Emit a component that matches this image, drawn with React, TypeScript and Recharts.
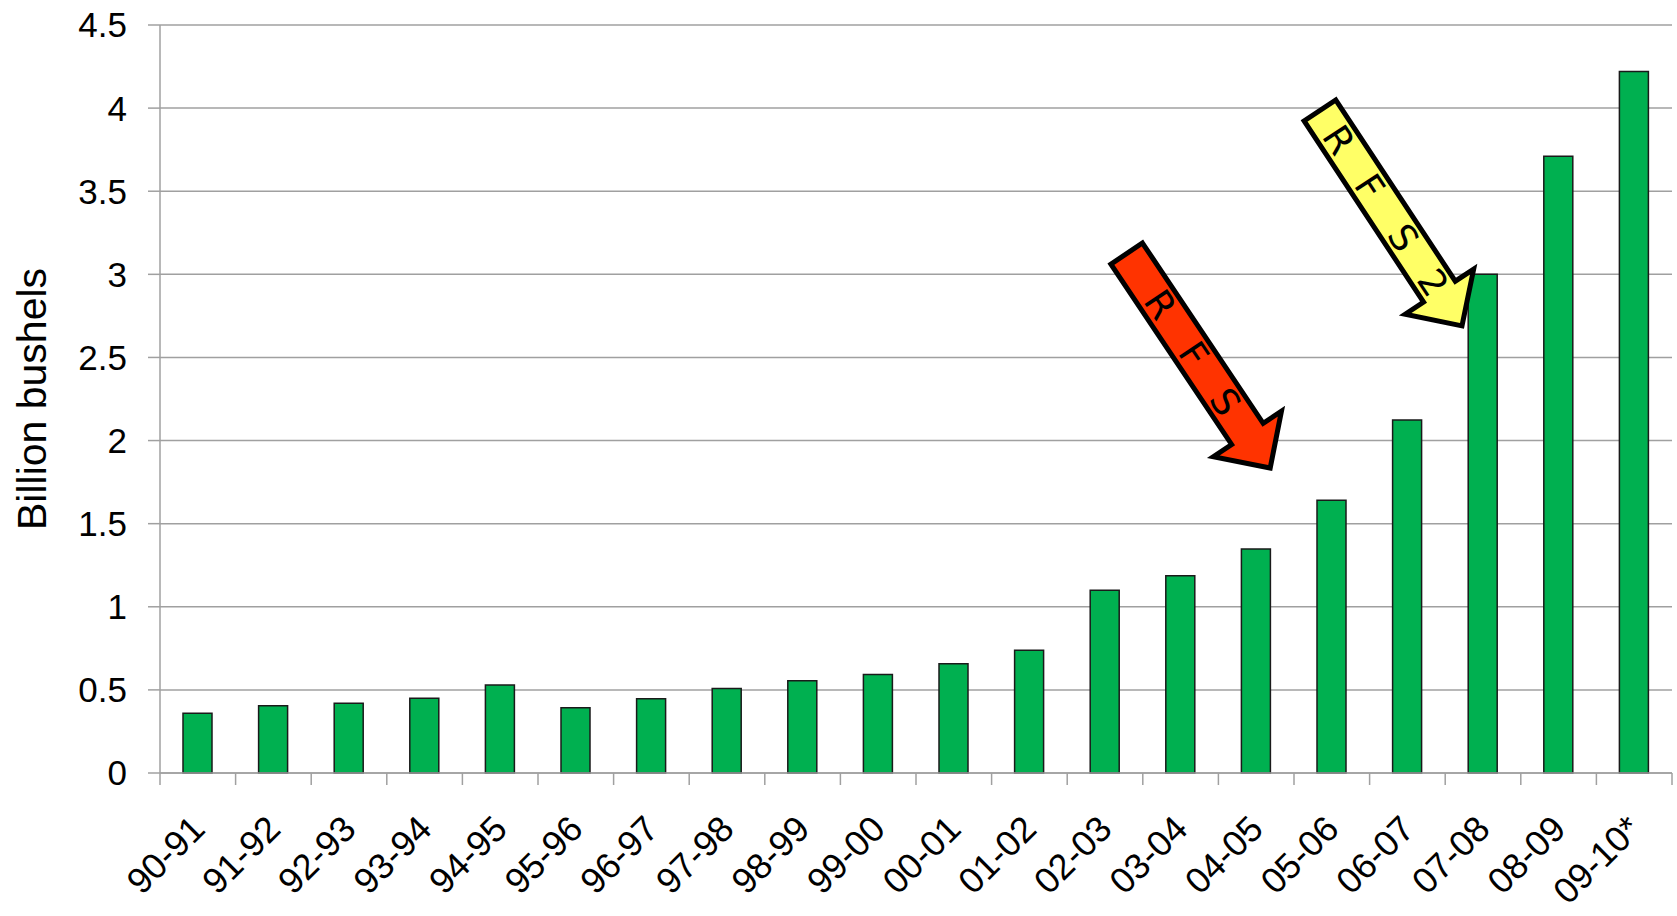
import { Bar, BarChart, CartesianGrid, ReferenceDot, XAxis, YAxis } from 'recharts'

const seasons = [
  '90-91', '91-92', '92-93', '93-94', '94-95', '95-96', '96-97', '97-98', '98-99', '99-00',
  '00-01', '01-02', '02-03', '03-04', '04-05', '05-06', '06-07', '07-08', '08-09', '09-10*',
]
const bushels = [
  0.36, 0.405, 0.42, 0.45, 0.53, 0.393, 0.447, 0.508, 0.555, 0.592,
  0.657, 0.738, 1.1, 1.187, 1.347, 1.641, 2.123, 3.0, 3.71, 4.22,
]
const yTicks = [0, 0.5, 1, 1.5, 2, 2.5, 3, 3.5, 4, 4.5]

const data = seasons.map((season, i) => ({ season, value: bushels[i] }))

const W = 1677
const H = 916
const PLOT_LEFT = 160
const PLOT_RIGHT = 1672
const BAND = (PLOT_RIGHT - PLOT_LEFT) / seasons.length
const FONT = '"Liberation Sans", Arial, sans-serif'
const GRID = '#a0a0a0'

function XTick(props: any) {
  const { x, y, payload, index } = props
  const last = index === seasons.length - 1
  const tx = x + 9
  const ty = y + 58
  return (
    <g>
      <line x1={x - BAND / 2} y1={y} x2={x - BAND / 2} y2={y + 12} stroke={GRID} strokeWidth={1.5} />
      {last && <line x1={x + BAND / 2} y1={y} x2={x + BAND / 2} y2={y + 12} stroke={GRID} strokeWidth={1.5} />}
      <text
        x={tx}
        y={ty}
        transform={`rotate(-45 ${tx} ${ty})`}
        textAnchor="end"
        fontSize={36}
        fontFamily={FONT}
        fill="#000"
      >
        {payload.value}
      </text>
    </g>
  )
}

// block arrow pointing at (cx + dx, cy), letters spaced along the shaft
function arrowShape(fill: string, letters: string[], spots: number[], angle: number, dx: number) {
  return (props: any) => {
    const { cx, cy } = props
    const L = 258
    const w = 38
    const hw = 41
    const hl = 41
    const pts = [
      [-L, -w / 2], [-hl, -w / 2], [-hl, -hw], [0, 0], [-hl, hw], [-hl, w / 2], [-L, w / 2],
    ].map((p) => p.join(',')).join(' ')
    return (
      <g transform={`translate(${cx + dx} ${cy}) rotate(${angle})`}>
        <polygon points={pts} fill={fill} stroke="#000" strokeWidth={5} strokeLinejoin="miter" />
        {letters.map((ch, i) => (
          <text
            key={i}
            x={spots[i]}
            y={0}
            dy="0.36em"
            textAnchor="middle"
            fontSize={37}
            fontFamily='"DejaVu Sans", sans-serif'
            fill="#000"
          >
            {ch}
          </text>
        ))}
      </g>
    )
  }
}

const rfsArrow = arrowShape('#ff3300', ['R', 'F', 'S'], [-197, -137, -80], 56.2, 14)
const rfs2Arrow = arrowShape('#ffff66', ['R', 'F', 'S', '2'], [-223, -167, -106, -52], 56.6, -21)

export default function App() {
  return (
    <div style={{ position: 'absolute', left: 0, top: 0, width: W, height: H, background: '#fff' }}>
      <BarChart width={W} height={H} data={data} margin={{ top: 25, right: W - PLOT_RIGHT, left: 0, bottom: 0 }}>
        <CartesianGrid vertical={false} stroke={GRID} strokeWidth={1.5} />
        <XAxis
          dataKey="season"
          interval={0}
          height={143}
          tickLine={false}
          tickSize={0}
          tickMargin={0}
          axisLine={{ stroke: GRID, strokeWidth: 1.5 }}
          tick={<XTick />}
        />
        <YAxis
          width={PLOT_LEFT}
          domain={[0, 4.5]}
          ticks={yTicks}
          interval={0}
          tickSize={12}
          tickMargin={21}
          axisLine={{ stroke: GRID, strokeWidth: 1.5 }}
          tickLine={{ stroke: GRID, strokeWidth: 1.5 }}
          tick={{ fontSize: 35, fontFamily: FONT, fill: '#000' }}
          label={{
            content: (p: any) => {
              const vb = p.viewBox
              const lx = vb.x + 46
              const ly = vb.y + vb.height / 2
              return (
                <text
                  x={lx}
                  y={ly}
                  transform={`rotate(-90 ${lx} ${ly})`}
                  textAnchor="middle"
                  fontSize={41}
                  fontFamily={FONT}
                  fill="#000"
                >
                  Billion bushels
                </text>
              )
            },
          }}
        />
        <Bar dataKey="value" barSize={29} fill="#00b050" stroke="#1a1a1a" strokeWidth={1.5} isAnimationActive={false} />
        <ReferenceDot x="04-05" y={1.835} r={1} shape={rfsArrow} ifOverflow="visible" />
        <ReferenceDot x="07-08" y={2.69} r={1} shape={rfs2Arrow} ifOverflow="visible" />
      </BarChart>
    </div>
  )
}
